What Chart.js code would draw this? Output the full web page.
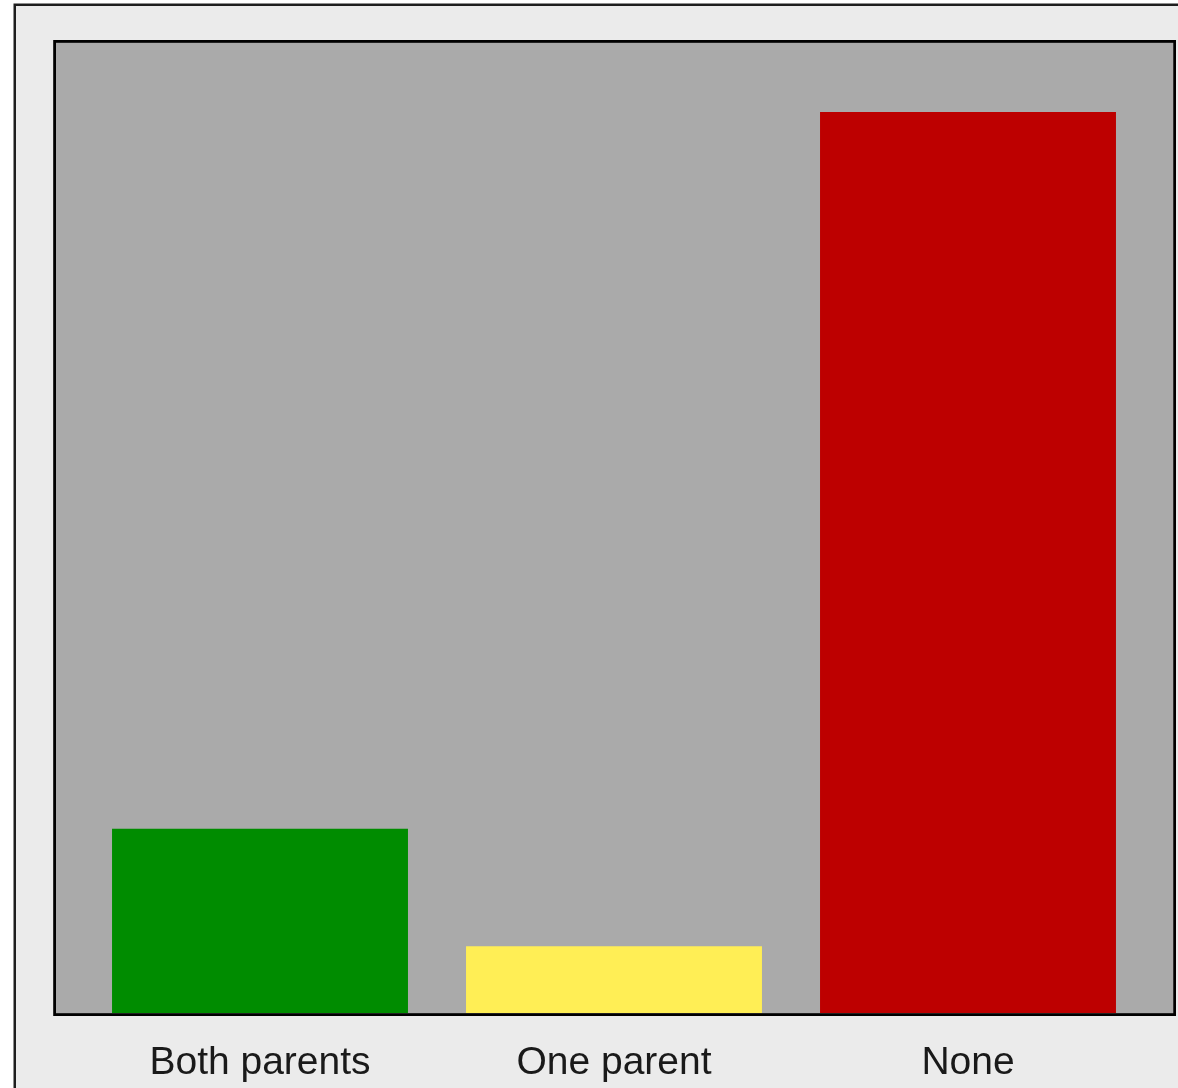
<!DOCTYPE html>
<html>
<head>
<meta charset="utf-8">
<script src="https://cdn.jsdelivr.net/npm/chart.js@4/dist/chart.umd.min.js"></script>
<style>
  html, body { margin: 0; padding: 0; background: #ffffff; }
  #wrap { width: 1178px; height: 1088px; position: relative; }
</style>
</head>
<body>
<div id="wrap"><canvas id="c" width="1178" height="1088"></canvas></div>
<script>
const categories = ["Both parents", "One parent", "None"];
const values = [16.0, 5.8, 78.2];
const barColors = ["#008c00", "#ffee55", "#bd0000"];
const yMax = 84.2;

const framePlugin = {
  id: 'frame',
  beforeDraw(chart) {
    const ctx = chart.ctx;
    ctx.save();
    ctx.fillStyle = '#ffffff';
    ctx.fillRect(0, 0, chart.width, chart.height);
    ctx.fillStyle = '#1e1e1e';
    ctx.fillRect(13.5, 3.5, chart.width, chart.height);
    ctx.fillStyle = '#ebebeb';
    ctx.fillRect(16, 6, chart.width, chart.height);
    ctx.restore();
  },
  beforeDatasetsDraw(chart) {
    const ctx = chart.ctx;
    const a = chart.chartArea;
    ctx.save();
    ctx.fillStyle = '#aaaaaa';
    ctx.fillRect(55, a.top - 1, 1173 - 55, a.bottom - a.top + 2);
    ctx.restore();
  },
  afterDatasetsDraw(chart) {
    const ctx = chart.ctx;
    const a = chart.chartArea;
    ctx.save();
    ctx.strokeStyle = '#000000';
    ctx.lineWidth = 2.8;
    ctx.strokeRect(54.6, a.top - 1.6, 1174.6 - 54.6, a.bottom + 1.6 - (a.top - 1.6));
    ctx.restore();
  }
};

new Chart(document.getElementById('c'), {
  type: 'bar',
  data: {
    labels: categories,
    datasets: [{
      data: values,
      backgroundColor: barColors,
      borderWidth: 0,
      barPercentage: 0.836,
      categoryPercentage: 1.0
    }]
  },
  options: {
    responsive: false,
    animation: false,
    devicePixelRatio: 1,
    layout: { padding: { left: 83, right: 33, top: 43, bottom: 0 } },
    plugins: { legend: { display: false }, tooltip: { enabled: false } },
    scales: {
      x: {
        grid: { display: false },
        border: { display: false },
        ticks: {
          color: '#1a1a1a',
          padding: 19,
          maxRotation: 0,
          font: { family: 'Liberation Sans', size: 39 }
        },
        afterFit(scale) { scale.height = 75; }
      },
      y: {
        display: false,
        min: 0,
        max: yMax
      }
    }
  },
  plugins: [framePlugin]
});
</script>
</body>
</html>
